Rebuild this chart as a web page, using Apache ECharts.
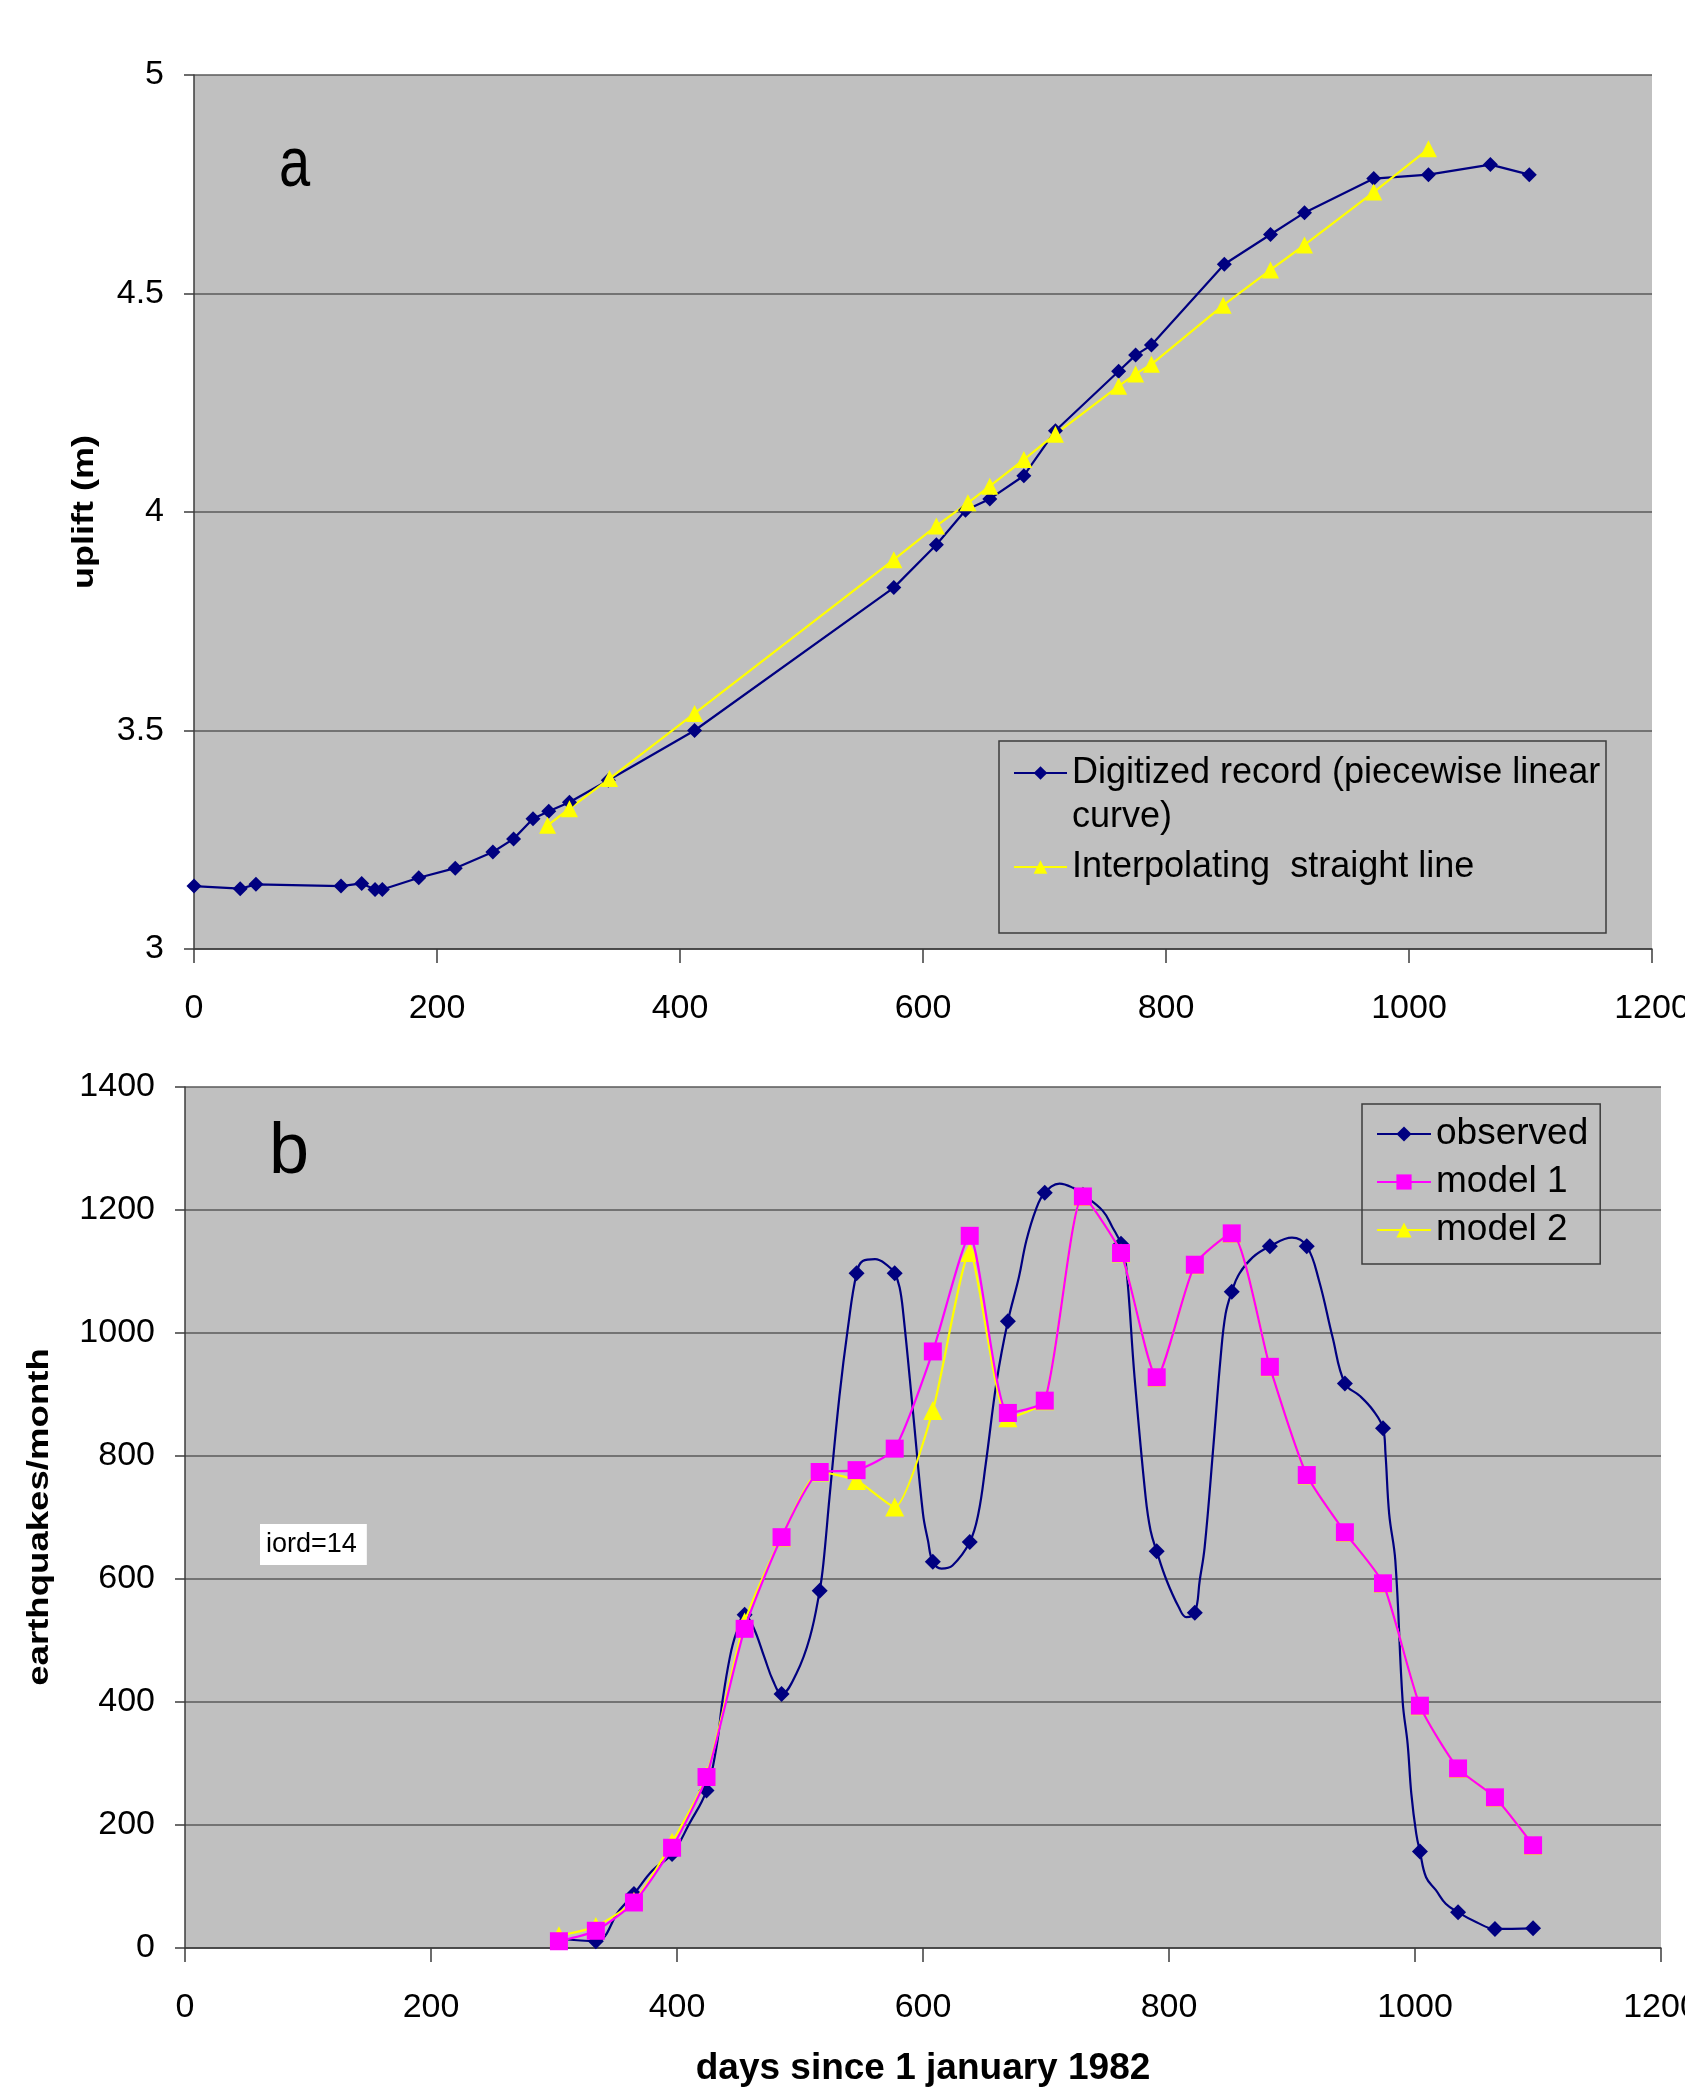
<!DOCTYPE html>
<html>
<head>
<meta charset="utf-8">
<title>uplift and earthquakes</title>
<script src="https://cdn.jsdelivr.net/npm/echarts@6/dist/echarts.min.js"></script>
<style>
  html, body { margin: 0; padding: 0; background: #fff; }
  #chart { width: 1685px; height: 2087px; }
</style>
</head>
<body>
<div id="chart"></div>
<script>
// panel a - digitized uplift record (days, m)
var upliftDays = [0, 38, 51, 121, 138, 149, 155, 185, 215, 246, 263, 279, 292, 309, 341, 412, 576, 611, 635, 655, 683, 709, 761, 775, 788, 848, 886, 914, 971, 1016, 1067, 1099];
var upliftObs = [3.144, 3.138, 3.148, 3.144, 3.150, 3.136, 3.136, 3.163, 3.185, 3.222, 3.252, 3.298, 3.315, 3.336, 3.386, 3.500, 3.827, 3.925, 4.004, 4.030, 4.083, 4.186, 4.322, 4.359, 4.382, 4.567, 4.635, 4.685, 4.763, 4.772, 4.795, 4.772];

// panel a - interpolating straight line
var lineDays = [291, 309, 342, 412, 576, 611, 637, 655, 683, 709, 761, 775, 788, 847, 886, 914, 971, 1016];
var lineVals = [3.283, 3.321, 3.390, 3.539, 3.891, 3.968, 4.021, 4.059, 4.120, 4.178, 4.288, 4.316, 4.338, 4.473, 4.554, 4.611, 4.732, 4.831];

// panel b - earthquakes per month (marked monthly values)
var monthDays = [304, 334, 365, 396, 424, 455, 485, 516, 546, 577, 608, 638, 669, 699, 730, 761, 790, 821, 851, 882, 912, 943, 974, 1004, 1035, 1065, 1096];
var observed = [15, 11, 88, 153, 256, 542, 413, 581, 1097, 1097, 628, 660, 1019, 1228, 1225, 1145, 645, 545, 1067, 1141, 1141, 918, 845, 157, 58, 31, 32];
var model1 = [11, 28, 74, 163, 278, 519, 668, 774, 777, 812, 970, 1158, 870, 890, 1222, 1130, 928, 1111, 1162, 945, 769, 676, 593, 394, 292, 245, 167];
var model2 = [20, 35, 76, 172, 280, 530, 668, 774, 760, 717, 874, 1131, 862, 890, 1222, 1130, 928, 1111, 1162, 945, 769, 676, 593, 394, 292, 245, 167];

// panel b - unmarked points along the smoothed "observed" trace
var traceDays = [353, 380, 410, 432, 437, 443, 448, 462, 471, 478, 497, 508, 519, 524, 532, 539, 551, 561, 571, 581, 584, 592, 600, 604, 615, 624, 645, 651, 660, 678, 684, 692, 711, 722, 746, 754, 765, 772, 781, 785, 798, 808, 814, 825, 829, 836, 842, 846, 857, 868, 900, 922, 933, 955, 966, 976, 979, 984, 990, 994, 997, 1001, 1009, 1017, 1025, 1050];
var traceVals = [61, 126, 202, 326, 402, 473, 511, 522, 473, 435, 446, 505, 625, 733, 896, 1009, 1117, 1120, 1110, 1074, 1031, 869, 706, 663, 617, 622, 706, 787, 923, 1091, 1150, 1202, 1243, 1236, 1199, 1172, 1112, 928, 733, 679, 598, 554, 538, 598, 652, 814, 961, 1031, 1096, 1123, 1155, 1085, 993, 898, 874, 804, 706, 630, 400, 332, 251, 186, 115, 94, 72, 42];

var nameDigitized = 'Digitized record (piecewise linear curve)';
var nameLine = 'Interpolating  straight line';

var FONT = '"Liberation Sans", Arial, sans-serif';

function pairs(xs, ys) {
    return xs.map(function (x, i) { return [x, ys[i]]; });
}

// monthly points keep their marker, trace points are drawn without one
function withTrace(xs, ys, tx, ty) {
    var pts = pairs(xs, ys).map(function (p) { return { value: p }; });
    tx.forEach(function (x, i) {
        pts.push({ value: [x, ty[i]], symbol: 'none' });
    });
    pts.sort(function (a, b) { return a.value[0] - b.value[0]; });
    return pts;
}

function plain(v) { return String(v); }

var chart = echarts.init(document.getElementById('chart'));

var axisLine = { show: true, lineStyle: { color: '#3c3c3c', width: 1.5 } };
var gridLine = { show: true, lineStyle: { color: '#5a5a5a', width: 1.5 } };
var labelStyle = { color: '#000', fontFamily: FONT, fontSize: 34, formatter: plain };

var option = {
    animation: false,
    backgroundColor: '#fff',
    grid: [
        { left: 194, top: 75, width: 1458, height: 874, outerBoundsMode: 'none', show: true, backgroundColor: '#c0c0c0', borderWidth: 0 },
        { left: 185, top: 1087, width: 1476, height: 861, outerBoundsMode: 'none', show: true, backgroundColor: '#c0c0c0', borderWidth: 0 }
    ],
    xAxis: [{
        gridIndex: 0, type: 'value', min: 0, max: 1200, interval: 200,
        axisLine: axisLine,
        axisTick: { show: true, length: 14, lineStyle: { color: '#3c3c3c', width: 1.5 } },
        axisLabel: Object.assign({ margin: 43 }, labelStyle),
        splitLine: { show: false }
    }, {
        gridIndex: 1, type: 'value', min: 0, max: 1200, interval: 200,
        axisLine: axisLine,
        axisTick: { show: true, length: 14, lineStyle: { color: '#3c3c3c', width: 1.5 } },
        axisLabel: Object.assign({ margin: 43 }, labelStyle),
        splitLine: { show: false },
        name: 'days since 1 january 1982',
        nameLocation: 'middle',
        nameGap: 102,
        nameTextStyle: { color: '#000', fontFamily: FONT, fontSize: 37, fontWeight: 'bold' }
    }],
    yAxis: [{
        gridIndex: 0, type: 'value', min: 3, max: 5, interval: 0.5,
        axisLine: axisLine,
        axisTick: { show: true, length: 10, lineStyle: { color: '#3c3c3c', width: 1.5 } },
        axisLabel: Object.assign({ margin: 30 }, labelStyle),
        splitLine: gridLine
    }, {
        gridIndex: 1, type: 'value', min: 0, max: 1400, interval: 200,
        axisLine: axisLine,
        axisTick: { show: true, length: 10, lineStyle: { color: '#3c3c3c', width: 1.5 } },
        axisLabel: Object.assign({ margin: 30 }, labelStyle),
        splitLine: gridLine
    }],
    legend: [{
        // first entry wraps; leading blank line keeps the icon on the first text line
        orient: 'vertical', left: 1013, top: 707, padding: 0,
        itemWidth: 53, itemHeight: 17, itemGap: 6,
        selectedMode: false,
        data: [nameDigitized, nameLine],
        formatter: function (name) {
            if (name === nameDigitized) return '\nDigitized record (piecewise linear\ncurve)';
            return name;
        },
        textStyle: { color: '#000', fontFamily: FONT, fontSize: 36, lineHeight: 44 }
    }, {
        orient: 'vertical', left: 1362, top: 1104, padding: [10, 12, 14, 14],
        borderColor: '#3c3c3c', borderWidth: 1.5,
        itemWidth: 54, itemHeight: 19, itemGap: 8,
        selectedMode: false,
        data: ['observed', 'model 1', 'model 2'],
        textStyle: { color: '#000', fontFamily: FONT, fontSize: 37, lineHeight: 40 }
    }],
    series: [{
        name: nameDigitized, type: 'line', xAxisIndex: 0, yAxisIndex: 0,
        data: pairs(upliftDays, upliftObs),
        symbol: 'diamond', symbolSize: 15,
        lineStyle: { color: '#000080', width: 2.2 },
        itemStyle: { color: '#000080' }
    }, {
        name: nameLine, type: 'line', xAxisIndex: 0, yAxisIndex: 0,
        data: pairs(lineDays, lineVals),
        symbol: 'triangle', symbolSize: 17,
        lineStyle: { color: '#ffff00', width: 2.2 },
        itemStyle: { color: '#ffff00' }
    }, {
        name: 'observed', type: 'line', xAxisIndex: 1, yAxisIndex: 1, z: 2,
        data: withTrace(monthDays, observed, traceDays, traceVals),
        smooth: 0.4,
        symbol: 'diamond', symbolSize: 16,
        lineStyle: { color: '#000080', width: 2.2 },
        itemStyle: { color: '#000080' }
    }, {
        name: 'model 2', type: 'line', xAxisIndex: 1, yAxisIndex: 1, z: 3,
        data: pairs(monthDays, model2),
        smooth: 0.2,
        symbol: 'triangle', symbolSize: 19,
        lineStyle: { color: '#ffff00', width: 2.2 },
        itemStyle: { color: '#ffff00' }
    }, {
        name: 'model 1', type: 'line', xAxisIndex: 1, yAxisIndex: 1, z: 4,
        data: pairs(monthDays, model1),
        smooth: 0.2,
        symbol: 'rect', symbolSize: 18,
        lineStyle: { color: '#ff00ff', width: 2.2 },
        itemStyle: { color: '#ff00ff' }
    }],
    graphic: [{
        type: 'rect', z: 10,
        shape: { x: 999, y: 741, width: 607, height: 192 },
        style: { fill: null, stroke: '#3c3c3c', lineWidth: 1.5 }
    }, {
        type: 'text', z: 10, x: 279, y: 167, scaleY: 1.25,
        style: { text: 'a', fill: '#000', fontFamily: FONT, fontSize: 56, verticalAlign: 'middle' }
    }, {
        type: 'text', z: 10, x: 269, y: 1153,
        style: { text: 'b', fill: '#000', fontFamily: FONT, fontSize: 72, verticalAlign: 'middle' }
    }, {
        type: 'text', z: 10, x: 85, y: 512, rotation: Math.PI / 2, scaleX: 1.2,
        style: { text: 'uplift (m)', fill: '#000', fontFamily: FONT, fontSize: 30, fontWeight: 'bold', align: 'center', verticalAlign: 'middle' }
    }, {
        type: 'text', z: 10, x: 40, y: 1517, rotation: Math.PI / 2, scaleX: 1.22,
        style: { text: 'earthquakes/month', fill: '#000', fontFamily: FONT, fontSize: 30, fontWeight: 'bold', align: 'center', verticalAlign: 'middle' }
    }, {
        type: 'text', z: 10, x: 260, y: 1524,
        style: { text: 'iord=14', fill: '#000', fontFamily: FONT, fontSize: 27, verticalAlign: 'top', backgroundColor: '#fff', padding: [7, 10, 7, 6] }
    }]
};

chart.setOption(option);

window.onresize = function () {
    chart.resize();
};
</script>
</body>
</html>
